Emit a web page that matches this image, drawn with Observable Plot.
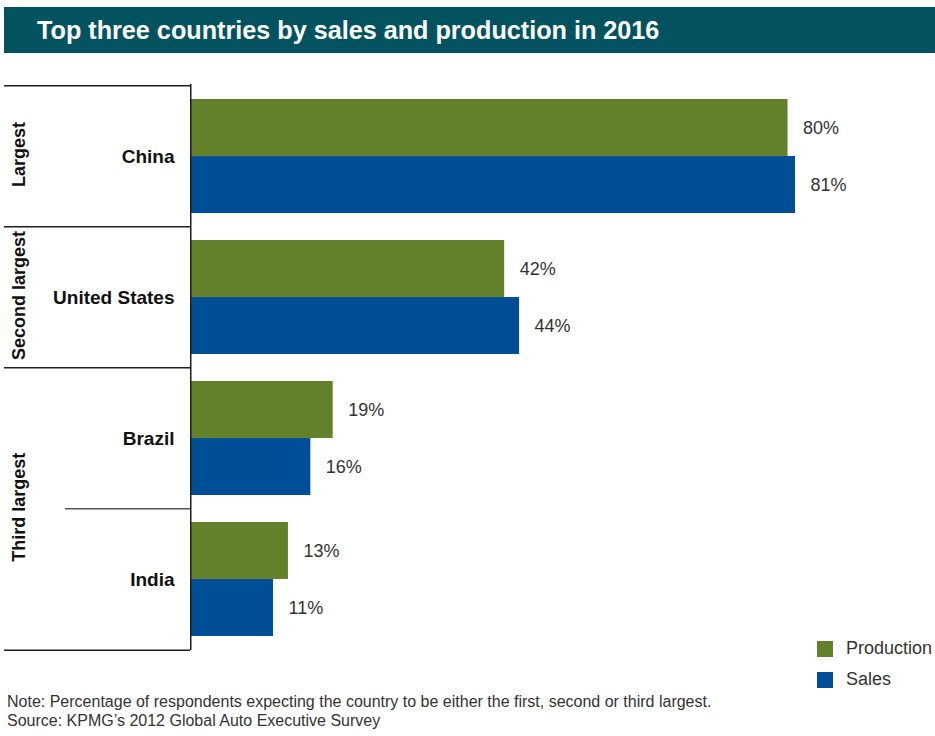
<!DOCTYPE html>
<html><head><meta charset="utf-8">
<script src="https://cdn.jsdelivr.net/npm/d3@7"></script>
<script src="https://cdn.jsdelivr.net/npm/@observablehq/plot@0.6"></script>
<style>
body{margin:0;background:#fff;font-family:"Liberation Sans",Arial,sans-serif;}
#wrap{position:relative;width:935px;height:736px;overflow:hidden;}
#title{position:absolute;left:4px;top:7px;width:931px;height:46px;background:#02535f;color:#fff;font-family:"Liberation Sans Narrow","Liberation Sans",sans-serif;font-weight:bold;font-size:25.2px;line-height:46px;padding-left:33px;box-sizing:border-box;white-space:nowrap;}
#chart{position:absolute;left:0;top:60px;}
#legend{position:absolute;left:817px;top:633px;font-size:18px;color:#333;}
.item{display:flex;align-items:center;height:31px;white-space:nowrap}
.sw{width:16px;height:16px;margin-right:13px;flex:none}
#note{position:absolute;left:7px;top:693px;font-size:16px;color:#333;line-height:18.5px;white-space:nowrap}
</style>
</head><body>
<div id="wrap">
  <div id="title"></div>
  <div id="chart"></div>
  <div id="legend"></div>
  <div id="note"></div>
</div>
<script>
const titleText = "Top three countries by sales and production in 2016";
const countries = ["China", "United States", "Brazil", "India"];
const tiers = ["Largest", "Second largest", "Third largest", "Third largest"];
const production = [80, 42, 19, 13];
const sales = [81, 44, 16, 11];
const seriesNames = ["Production", "Sales"];
const seriesColors = ["#63812a", "#004f96"];
const noteLines = [
  "Note: Percentage of respondents expecting the country to be either the first, second or third largest.",
  "Source: KPMG\u2019s 2012 Global Auto Executive Survey"
];

document.getElementById("title").textContent = titleText;

const rows = countries.flatMap((c, i) => [
  {country: c, series: "Production", value: production[i]},
  {country: c, series: "Sales", value: sales[i]}
]);
const prodRows = rows.filter(d => d.series === "Production");
const salesRows = rows.filter(d => d.series === "Sales");

const W = 935, H = 610, mT = 24, mB = 20, mL = 191, mR = 140;
const padIn = 0.194;
const step = (H - mT - mB) / countries.length;
const band = step * (1 - padIn);
const half = band / 2;
const frameW = W - mL - mR;
const lineColor = "#1e1e1e";

// tier groups
const tierGroups = [];
tiers.forEach((t, i) => {
  const g = tierGroups.find(g => g.label === t);
  if (g) g.count++; else tierGroups.push({label: t, first: countries[i], count: 1});
});
const tierMarks = tierGroups.map(g => Plot.text([g], {
  y: "first", text: "label", frameAnchor: "left", dx: -172, dy: (g.count - 1) * step / 2 - 2,
  rotate: -90, fontSize: 18, fontWeight: "bold", fill: "#111", textAnchor: "middle"
}));

const dividers = countries.map((c, i) => ({country: c, inner: i > 0 && tiers[i] === tiers[i - 1]}));

const chart = Plot.plot({
  width: W, height: H, marginTop: mT, marginBottom: mB, marginLeft: mL, marginRight: mR,
  x: {domain: [0, 81], axis: null},
  y: {domain: countries, paddingInner: padIn, paddingOuter: padIn / 2, axis: null},
  color: {domain: seriesNames, range: seriesColors},
  style: {fontFamily: "Liberation Sans, Arial, sans-serif", background: "transparent", overflow: "visible"},
  marks: [
    Plot.barX(prodRows, {x: "value", y: "country", fill: "series", insetBottom: half}),
    Plot.barX(salesRows, {x: "value", y: "country", fill: "series", insetTop: half}),
    Plot.text(prodRows, {x: "value", y: "country", text: d => d.value + "%", dx: 15, dy: -half / 2, textAnchor: "start", fontSize: 18, fill: "#333"}),
    Plot.text(salesRows, {x: "value", y: "country", text: d => d.value + "%", dx: 15, dy: half / 2, textAnchor: "start", fontSize: 18, fill: "#333"}),
    Plot.text(countries, {y: d => d, text: d => d, frameAnchor: "left", dx: -17, textAnchor: "end", fontSize: 19, fontWeight: "bold", fill: "#111"}),
    ...tierMarks,
    Plot.ruleY(dividers.filter(d => !d.inner), {y: "country", dy: -step / 2, insetLeft: -187, insetRight: frameW + 1, stroke: lineColor, strokeWidth: 1.5}),
    Plot.ruleY(dividers.filter(d => d.inner), {y: "country", dy: -step / 2, insetLeft: -126, insetRight: frameW + 1, stroke: "#555", strokeWidth: 1.5}),
    Plot.ruleY(dividers.slice(-1), {y: "country", dy: step / 2, insetLeft: -187, insetRight: frameW + 1, stroke: lineColor, strokeWidth: 1.5}),
    Plot.ruleX([0], {dx: -0.75, stroke: lineColor, strokeWidth: 1.5})
  ]
});
document.getElementById("chart").appendChild(chart);

const legend = document.getElementById("legend");
seriesNames.forEach((s, i) => {
  const item = document.createElement("div");
  item.className = "item";
  const sw = document.createElement("div");
  sw.className = "sw";
  sw.style.background = seriesColors[i];
  const lab = document.createElement("span");
  lab.textContent = s;
  item.appendChild(sw); item.appendChild(lab);
  legend.appendChild(item);
});
const note = document.getElementById("note");
noteLines.forEach(t => { const d = document.createElement("div"); d.textContent = t; note.appendChild(d); });
</script>
</body></html>
